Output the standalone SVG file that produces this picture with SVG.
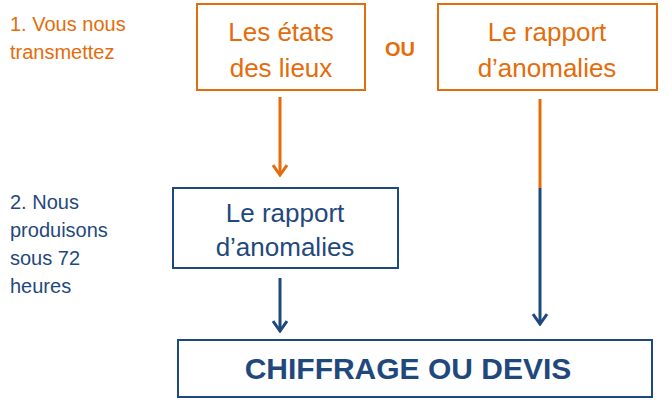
<svg xmlns="http://www.w3.org/2000/svg" width="672" height="403" viewBox="0 0 672 403">
<style>
.o{fill:#fff;stroke:#E46C0A;stroke-width:2}
.b{fill:#fff;stroke:#1F497D;stroke-width:2}
text{font-family:"Liberation Sans",Arial,sans-serif}
.to{fill:#E46C0A}.tb{fill:#1F497D}
.big{font-size:26px;text-anchor:middle}
.sm{font-size:20px}
</style>
<defs>
<marker id="ao" markerWidth="14" markerHeight="16" refX="12" refY="8" orient="auto" markerUnits="userSpaceOnUse" viewBox="0 0 14 16"><path d="M2,1 L12,8 L2,15" fill="none" stroke="#E46C0A" stroke-width="3"/></marker>
<marker id="ab" markerWidth="14" markerHeight="16" refX="12" refY="8" orient="auto" markerUnits="userSpaceOnUse" viewBox="0 0 14 16"><path d="M2,1 L12,8 L2,15" fill="none" stroke="#1F497D" stroke-width="3"/></marker>
</defs>
<text class="sm to" x="10" y="31">1. Vous nous</text>
<text class="sm to" x="10" y="59">transmettez</text>
<text class="sm tb" x="10" y="209">2. Nous</text>
<text class="sm tb" x="10" y="237">produisons</text>
<text class="sm tb" x="10" y="265">sous 72</text>
<text class="sm tb" x="10" y="293">heures</text>
<text class="to" x="400" y="56" font-size="20" font-weight="bold" text-anchor="middle">OU</text>
<g id="connectors">
<line x1="280" y1="97" x2="280" y2="175" stroke="#E46C0A" stroke-width="3" marker-end="url(#ao)"/>
<line x1="280" y1="278" x2="280" y2="331" stroke="#1F497D" stroke-width="3" marker-end="url(#ab)"/>
<line x1="540" y1="99" x2="540" y2="188" stroke="#E46C0A" stroke-width="3"/>
<line x1="540" y1="188" x2="540" y2="324" stroke="#1F497D" stroke-width="3" marker-end="url(#ab)"/>
</g>
<g id="n1"><rect class="o" x="197" y="4" width="168" height="86"/>
<text class="big to" x="281" y="41">Les états</text><text class="big to" x="281" y="77">des lieux</text></g>
<g id="n2"><rect class="o" x="438" y="4" width="219" height="86"/>
<text class="big to" x="547" y="41">Le rapport</text><text class="big to" x="547" y="77">d’anomalies</text></g>
<g id="n3"><rect class="b" x="173" y="188" width="225" height="80"/>
<text class="big tb" x="285" y="222">Le rapport</text><text class="big tb" x="285" y="256">d’anomalies</text></g>
<g id="n4"><rect class="b" x="178" y="340" width="474" height="57"/>
<text class="tb" x="408" y="379" font-size="30" font-weight="bold" text-anchor="middle">CHIFFRAGE OU DEVIS</text></g>
</svg>
